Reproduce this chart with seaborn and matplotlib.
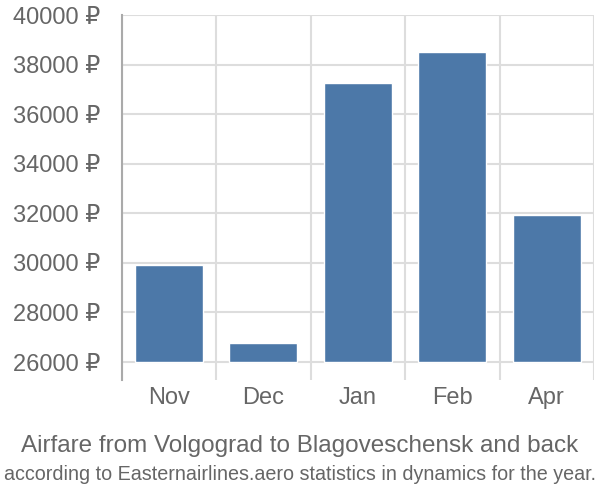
import numpy as np
import pandas as pd
import matplotlib
matplotlib.use("Agg")
import matplotlib.pyplot as plt
import seaborn as sns

months = ["Nov", "Dec", "Jan", "Feb", "Apr"]
prices = [29900, 26770, 37250, 38500, 31920]
y_ticks = [26000, 28000, 30000, 32000, 34000, 36000, 38000, 40000]
base = 26000
title = "Airfare from Volgograd to Blagoveschensk and back"
subtitle = "according to Easternairlines.aero statistics in dynamics for the year."

sns.set_style("white")
plt.rcParams["font.family"] = ["Liberation Sans", "DejaVu Sans"]

df = pd.DataFrame({"month": months, "price": prices})
df["height"] = df["price"] - base

fig = plt.figure(figsize=(6, 5), dpi=100)
ax = fig.add_axes([0.203, 0.24, 0.787, 0.73])

sns.barplot(data=df, x="month", y="height", ax=ax, color="#4c78a8",
            saturation=1, width=0.72, bottom=base, zorder=3)

ax.set_xlim(-0.5, len(months) - 0.5)
ax.set_ylim(25274, 40000)
ax.set_yticks(y_ticks)
ax.set_yticklabels([f"{v} ₽" for v in y_ticks])
ax.set_xticks(np.arange(-0.5, len(months)), minor=True)

for s in ["top", "right", "bottom"]:
    ax.spines[s].set_visible(False)
ax.spines["left"].set_color("#aaaaaa")
ax.spines["left"].set_linewidth(1.5)
ax.spines["left"].set_zorder(4)

ax.grid(axis="y", which="major", color="#dddddd", linewidth=1.5, zorder=0)
ax.grid(axis="x", which="minor", color="#dddddd", linewidth=1.5, zorder=0)
ax.set_axisbelow(True)

ax.tick_params(axis="y", length=14.4, width=1.5, color="#dddddd", pad=1,
               labelsize=17, labelcolor="#666666")
ax.tick_params(axis="x", which="major", length=0, pad=5,
               labelsize=17, labelcolor="#666666")
ax.tick_params(axis="x", which="minor", length=0)
ax.set_xlabel("")
ax.set_ylabel("")

fig.text(0.5, 0.108, title, ha="center", va="center", fontsize=17.5, color="#666666")
fig.text(0.5, 0.05, subtitle, ha="center", va="center", fontsize=14.2,
         color="#666666")

fig.savefig("out.png", dpi=100)
